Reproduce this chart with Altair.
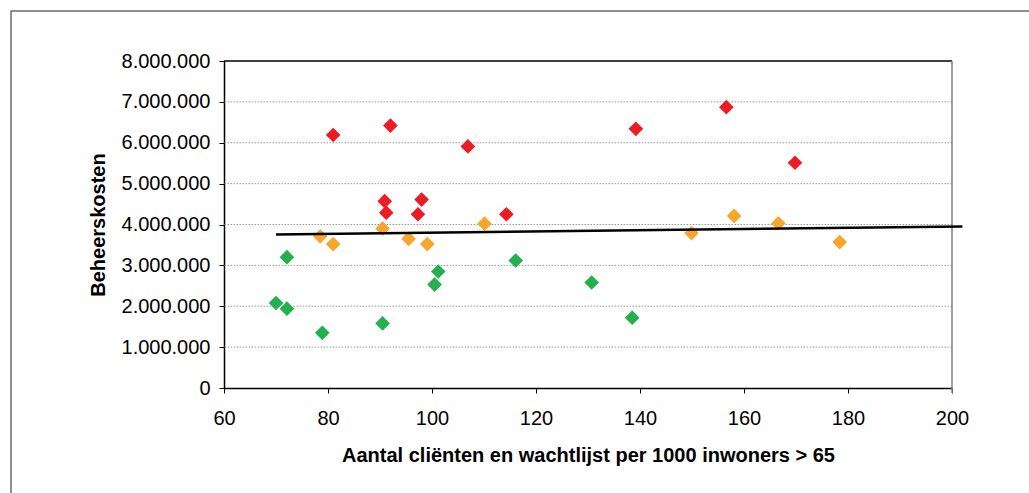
import altair as alt
import pandas as pd

# Data (x: clients per 1000 inhabitants > 65, y: beheerskosten)
red_x = [81.0, 92.0, 106.9, 90.9, 91.2, 98.0, 97.3, 114.3, 139.2, 156.6, 169.8]
red_y = [6190000, 6420000, 5910000, 4570000, 4290000, 4610000, 4250000, 4250000, 6340000, 6870000, 5510000]

orange_x = [78.5, 81.0, 90.5, 95.5, 99.1, 110.1, 149.9, 158.1, 166.6, 178.4]
orange_y = [3710000, 3520000, 3900000, 3650000, 3520000, 4020000, 3790000, 4210000, 4030000, 3570000]

green_x = [70.0, 72.1, 72.1, 78.9, 90.5, 100.5, 101.2, 116.1, 130.7, 138.5]
green_y = [2080000, 1940000, 3200000, 1350000, 1580000, 2530000, 2850000, 3120000, 2580000, 1720000]

trend_x = [70.0, 202.0]
trend_y = [3758000, 3953000]

groups = ["rood", "oranje", "groen"]
group_colors = ["#ED1C24", "#F8A52B", "#22B14C"]

x_ticks = [60, 80, 100, 120, 140, 160, 180, 200]
y_ticks = [0, 1000000, 2000000, 3000000, 4000000, 5000000, 6000000, 7000000, 8000000]
grid_values = [1000000, 2000000, 3000000, 4000000, 5000000, 6000000, 7000000]

rows = []
for g, xs, ys in [("rood", red_x, red_y), ("oranje", orange_x, orange_y), ("groen", green_x, green_y)]:
    for a, b in zip(xs, ys):
        rows.append({"x": a, "y": b, "groep": g})
points_df = pd.DataFrame(rows)
trend_df = pd.DataFrame({"x": trend_x, "y": trend_y})
grid_df = pd.DataFrame({"y": grid_values})

W, H = 728, 327
PAD_L, PAD_T = 224, 61

FONT = "Liberation Sans"

x_scale = alt.Scale(domain=[60, 200], nice=False, zero=False)
y_scale = alt.Scale(domain=[0, 8000000], nice=False)

x_axis = alt.Axis(
    values=x_ticks, title="Aantal cliënten en wachtlijst per 1000 inwoners > 65",
    grid=False, domainColor="black", domainWidth=1.5, tickColor="black", tickSize=5,
    labelFont=FONT, labelFontSize=20, labelColor="black", labelPadding=15,
    titleFont=FONT, titleFontSize=20, titleFontWeight="bold", titleColor="black",
    titlePadding=17, labelFlush=False,
)
y_axis = alt.Axis(
    values=y_ticks, title="Beheerskosten",
    grid=False, domainColor="black", domainWidth=1.5, tickColor="black", tickSize=5,
    labelFont=FONT, labelFontSize=20, labelColor="black", labelPadding=9,
    labelExpr="replace(format(datum.value, ','), regexp(',', 'g'), '.')",
    titleFont=FONT, titleFontSize=20, titleFontWeight="bold", titleColor="black",
    titlePadding=13,
)

frame = alt.Chart(pd.DataFrame({"a": [0]})).mark_rect(
    fill=None, stroke="#6a6a6a", strokeWidth=1.5
).encode(
    x=alt.value(11 - PAD_L), x2=alt.value(1100 - PAD_L),
    y=alt.value(11 - PAD_T), y2=alt.value(560 - PAD_T),
)

grid = alt.Chart(grid_df).mark_rule(
    color="#9a9a9a", strokeWidth=1, strokeDash=[1.5, 1.5]
).encode(y=alt.Y("y:Q", scale=y_scale, axis=y_axis))

top_rule = alt.Chart(pd.DataFrame({"a": [0]})).mark_rule(color="black", strokeWidth=1.5).encode(
    x=alt.value(0), x2=alt.value(W), y=alt.value(0)
)
right_rule = alt.Chart(pd.DataFrame({"a": [0]})).mark_rule(color="#808080", strokeWidth=1.5).encode(
    x=alt.value(W), y=alt.value(0), y2=alt.value(H + 5)
)

pts = alt.Chart(points_df).mark_point(
    shape="diamond", filled=True, size=215, opacity=1
).encode(
    x=alt.X("x:Q", scale=x_scale, axis=x_axis),
    y=alt.Y("y:Q", scale=y_scale, axis=y_axis),
    color=alt.Color("groep:N", scale=alt.Scale(domain=groups, range=group_colors), legend=None),
)

trend = alt.Chart(trend_df).mark_line(color="black", strokeWidth=2.5).encode(
    x=alt.X("x:Q", scale=x_scale, axis=x_axis),
    y=alt.Y("y:Q", scale=y_scale, axis=y_axis),
)

chart = alt.layer(frame, grid, top_rule, right_rule, pts, trend).properties(
    width=W, height=H,
    autosize=alt.AutoSizeParams(type="none"),
    padding={"left": PAD_L, "top": PAD_T, "right": 1029 - PAD_L - W, "bottom": 493 - PAD_T - H},
    background="white",
).configure_view(stroke=None)

chart.save("out.html", embed_options={"renderer": "svg", "actions": False})
